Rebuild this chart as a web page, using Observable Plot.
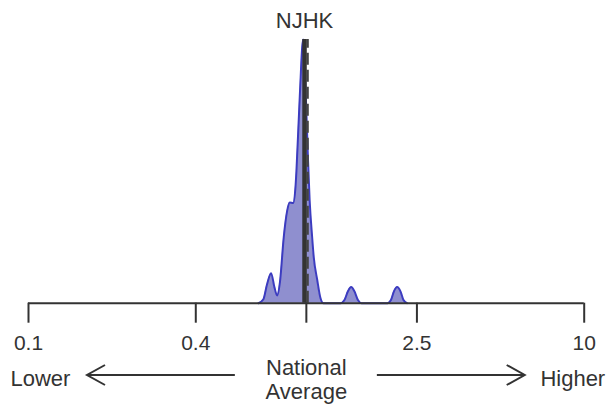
<!DOCTYPE html>
<html>
<head>
<meta charset="utf-8">
<script src="https://cdn.jsdelivr.net/npm/d3@7"></script>
<script src="https://cdn.jsdelivr.net/npm/@observablehq/plot@0.6"></script>
<style>
  html, body { margin: 0; padding: 0; background: #fff; }
</style>
</head>
<body>
<div id="chart"></div>
<script>
// Density curve (x on a log scale, density normalised to the peak)
const curveX = [0.6725, 0.7006, 0.7213, 0.7467, 0.7677, 0.7851, 0.8035, 0.8291, 0.8529, 0.8714,
                0.8964, 0.9137, 0.9213, 0.9467, 0.9739, 0.9967, 1.0134, 1.0277, 1.0493, 1.0632,
                1.0937, 1.1240, 1.1525, 1.3268, 1.3713, 1.4117, 1.4495, 1.4896, 1.5335, 1.5785,
                1.9583, 2.0160, 2.0668, 2.1227, 2.1815, 2.2364, 2.3020];
const curveD = [0, 0.015, 0.07, 0.114, 0.06, 0.029, 0.08, 0.25, 0.35, 0.382,
                0.38, 0.44, 0.503, 0.781, 1.0, 0.77, 0.55, 0.39, 0.25, 0.175,
                0.09, 0.02, 0, 0, 0.012, 0.045, 0.061, 0.045, 0.012, 0,
                0, 0.012, 0.045, 0.061, 0.045, 0.012, 0];

const providerName = ["NJHK"];
const providerValue = [0.985];
const referenceValue = [1.01];
const nationalAverage = [1];

const tickValues = [0.1, 0.4, 1, 2.5, 10];
const tickLabels = ["0.1", "0.4", "", "2.5", "10"];

const lowerLabel = ["Lower"];
const higherLabel = ["Higher"];
const middleLabel = ["National\nAverage"];

const curve = curveX.map((x, i) => ({x, d: curveD[i]}));
const provider = providerName.map((label, i) => ({label, x: providerValue[i]}));
const tickMap = new Map(tickValues.map((v, i) => [v, tickLabels[i]]));

const W = 607, H = 406, mL = 28, mR = 23.3, mT = 39, mB = 103.3;
const font = "'Liberation Sans', Arial, Helvetica, sans-serif";
const ink = "#333333";

const plot = Plot.plot({
  width: W,
  height: H,
  marginLeft: mL,
  marginRight: mR,
  marginTop: mT,
  marginBottom: mB,
  x: {type: "log", domain: [0.1, 10]},
  y: {domain: [0, 1], axis: null},
  style: {fontFamily: font, color: ink, background: "#fff", overflow: "visible"},
  marks: [
    Plot.areaY(curve, {x: "x", y: "d", fill: "#8f8fcf", curve: "monotone-x"}),
    Plot.lineY(curve, {x: "x", y: "d", stroke: "#3c3cc0", strokeWidth: 2, curve: "monotone-x"}),
    Plot.ruleX(providerValue, {y1: 0, y2: 1, stroke: ink, strokeWidth: 4.5}),
    Plot.ruleX(referenceValue, {y1: 0, y2: 1, stroke: "#444", strokeWidth: 2.5, strokeDasharray: "12,5"}),
    Plot.ruleY([0], {stroke: ink, strokeWidth: 2}),
    Plot.axisX({
      ticks: tickValues,
      tickFormat: d => tickMap.get(d) ?? "",
      tickSize: 20,
      tickPadding: 12,
      stroke: ink,
      strokeWidth: 2,
      fontSize: 21,
      fill: ink,
      label: null
    }),
    Plot.text(provider, {x: "x", y: () => 1, text: "label", dy: -12, lineAnchor: "bottom",
      fontSize: 22, fill: ink}),
    Plot.text(lowerLabel, {frameAnchor: "bottom-left", textAnchor: "start", lineAnchor: "bottom",
      dx: -18, dy: 82.3, fontSize: 22, fill: ink}),
    Plot.text(higherLabel, {frameAnchor: "bottom-right", textAnchor: "end", lineAnchor: "bottom",
      dx: 21, dy: 82.3, fontSize: 22, fill: ink}),
    Plot.text(middleLabel, {x: nationalAverage, y: [0], textAnchor: "middle", lineAnchor: "bottom",
      lineHeight: 1.05, dy: 95.3, fontSize: 22, fill: ink})
  ]
});

document.getElementById("chart").appendChild(plot);

// Direction arrows under the axis
const svg = d3.select(plot.tagName.toLowerCase() === "svg" ? plot : plot.querySelector("svg"));
const xs = plot.scale("x");
const x0 = xs.apply(nationalAverage[0]);
const ay = H - mB + 72.3;
const arrows = [
  {tail: x0 - 71, tip: mL + 59},
  {tail: x0 + 71, tip: W - mR - 59}
];
svg.append("g")
  .attr("fill", "none")
  .attr("stroke", ink)
  .attr("stroke-width", 2)
  .selectAll("path")
  .data(arrows)
  .join("path")
  .attr("d", a => {
    const s = Math.sign(a.tail - a.tip);
    return `M${a.tail},${ay}L${a.tip},${ay}M${a.tip + s * 18},${ay - 10}L${a.tip},${ay}L${a.tip + s * 18},${ay + 10}`;
  });
</script>
</body>
</html>
